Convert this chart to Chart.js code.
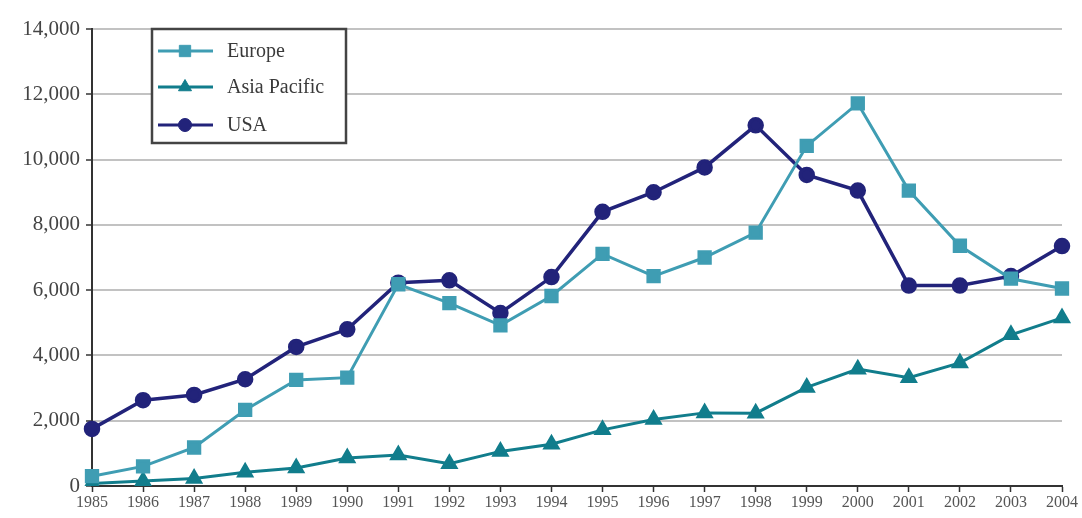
<!DOCTYPE html>
<html>
<head>
<meta charset="utf-8">
<script src="https://cdn.jsdelivr.net/npm/chart.js@4.4.1/dist/chart.umd.min.js"></script>
<style>
html,body{margin:0;padding:0;background:#fff;}
#wrap{width:1082px;height:518px;}
</style>
</head>
<body>
<div id="wrap"><canvas id="c" width="1082" height="518"></canvas></div>
<script>
const years = ['1985','1986','1987','1988','1989','1990','1991','1992','1993','1994','1995','1996','1997','1998','1999','2000','2001','2002','2003','2004'];
const europe = [300,600,1180,2330,3250,3320,6180,5600,4920,5820,7110,6430,7000,7760,10420,11720,9050,7360,6350,6050];
const asiaPacific = [80,150,230,420,550,860,950,680,1060,1280,1720,2040,2240,2230,3020,3580,3320,3770,4630,5150];
const usa = [1750,2630,2790,3270,4260,4800,6230,6300,5300,6400,8400,9000,9760,11050,9530,9050,6140,6140,6430,7350];
const yTicks = [0,2000,4000,6000,8000,10000,12000,14000];

const seriesNames = ['Europe','Asia Pacific','USA'];
const colors = ['#3f9db3','#117d8c','#22237a'];
const serif = '"Liberation Serif", "Times New Roman", serif';

const legendBox = {
  id: 'legendBox',
  afterDraw(chart) {
    const ctx = chart.ctx;
    const x0 = 152, y0 = 29, w = 194, h = 114;
    ctx.save();
    ctx.fillStyle = '#fff';
    ctx.fillRect(x0, y0, w, h);
    ctx.strokeStyle = '#444';
    ctx.lineWidth = 2.5;
    ctx.strokeRect(x0, y0, w, h);
    const rows = [51, 87, 125];
    chart.data.datasets.forEach((ds, i) => {
      const y = rows[i];
      ctx.strokeStyle = ds.borderColor;
      ctx.lineWidth = 3;
      ctx.beginPath();
      ctx.moveTo(158, y);
      ctx.lineTo(213, y);
      ctx.stroke();
      ctx.fillStyle = ds.pointBackgroundColor;
      ctx.strokeStyle = ds.borderColor;
      ctx.lineWidth = 1;
      Chart.helpers.drawPoint(ctx, {pointStyle: ds.pointStyle, radius: ds.pointRadius, borderWidth: 1}, 185, y);
      ctx.fillStyle = '#3a3a3a';
      ctx.font = '20px ' + serif;
      ctx.textBaseline = 'middle';
      ctx.textAlign = 'left';
      ctx.fillText(ds.label, 227, y + 1);
    });
    ctx.restore();
  }
};

new Chart(document.getElementById('c'), {
  type: 'line',
  data: {
    labels: years,
    datasets: [
      {label: seriesNames[0], data: europe, borderColor: colors[0], backgroundColor: colors[0], pointBackgroundColor: colors[0], pointBorderColor: colors[0], pointStyle: 'rect', pointRadius: 8, borderWidth: 3, tension: 0},
      {label: seriesNames[1], data: asiaPacific, borderColor: colors[1], backgroundColor: colors[1], pointBackgroundColor: colors[1], pointBorderColor: colors[1], pointStyle: 'triangle', pointRadius: 7.5, borderWidth: 3, tension: 0},
      {label: seriesNames[2], data: usa, borderColor: colors[2], backgroundColor: colors[2], pointBackgroundColor: colors[2], pointBorderColor: colors[2], pointStyle: 'circle', pointRadius: 6.5, borderWidth: 3.5, tension: 0}
    ]
  },
  options: {
    responsive: false,
    animation: false,
    devicePixelRatio: 1,
    layout: {padding: {top: 29, right: 20, left: 0, bottom: 0}},
    plugins: {legend: {display: false}, tooltip: {enabled: false}},
    scales: {
      x: {
        offset: false,
        grid: {drawOnChartArea: false, drawTicks: true, tickLength: 6, tickColor: '#333', tickWidth: 1.5},
        border: {color: '#333', width: 2},
        ticks: {color: '#555', font: {family: serif, size: 16}, maxRotation: 0, autoSkip: false, padding: 1},
        afterFit(s) { s.height = 32; }
      },
      y: {
        min: 0, max: 14000,
        afterBuildTicks(s) { s.ticks = yTicks.map(v => ({value: v})); },
        grid: {color: '#c2c2c2', lineWidth: 2, drawTicks: true, tickLength: 6, tickColor: '#333', tickWidth: 1.5},
        border: {color: '#333', width: 2},
        ticks: {color: '#444', font: {family: serif, size: 21}, padding: 6,
          callback: v => v.toLocaleString('en-US')},
        afterFit(s) { s.width = 92; }
      }
    }
  },
  plugins: [legendBox]
});
</script>
</body>
</html>
